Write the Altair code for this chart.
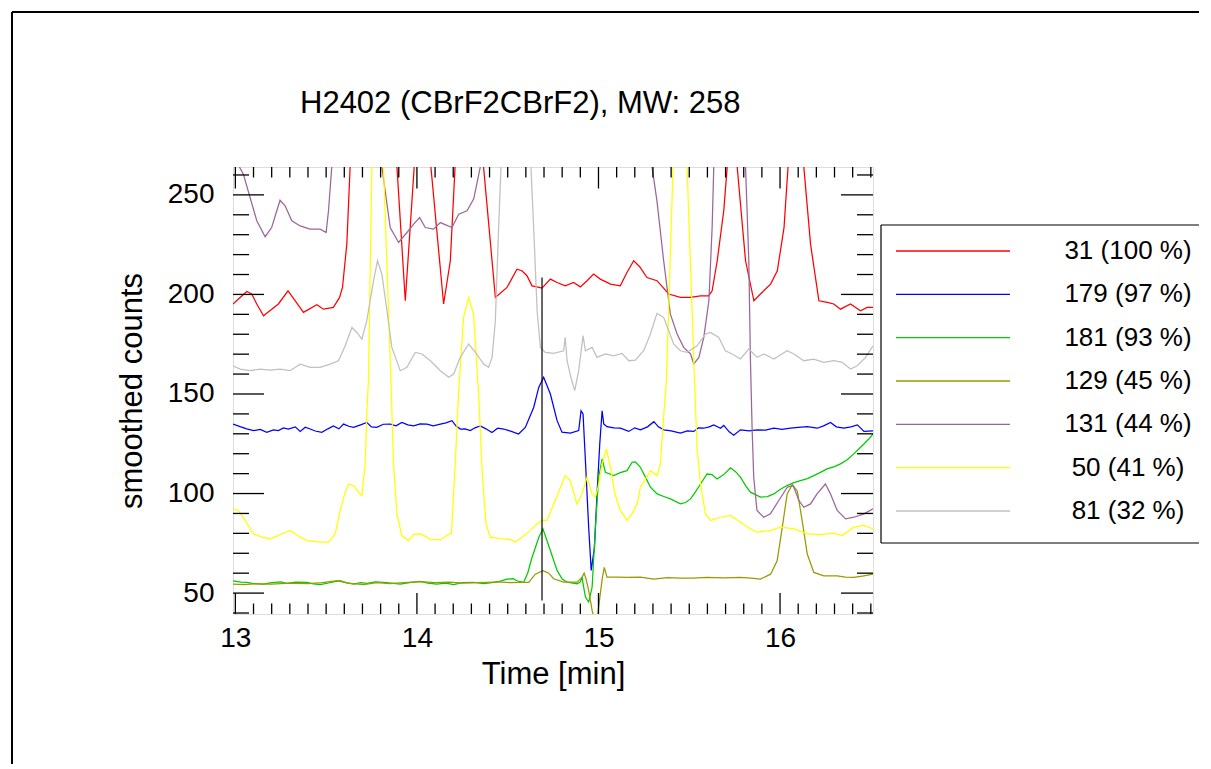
import altair as alt
import pandas as pd

FONT = "Liberation Sans"

title_text = "H2402 (CBrF2CBrF2), MW: 258"
x_title = "Time [min]"
y_title = "smoothed counts"

series_names = ["31 (100 %)", "179 (97 %)", "181 (93 %)", "129 (45 %)",
                "131 (44 %)", "50 (41 %)", "81 (32 %)"]
series_colors = ["#ff0000", "#0000ff", "#00cc00", "#999900",
                 "#996699", "#ffff00", "#c0c0c0"]

x_major = [13, 14, 15, 16]
x_minor = [13.1, 13.2, 13.3, 13.4, 13.5, 13.6, 13.7, 13.8, 13.9,
           14.1, 14.2, 14.3, 14.4, 14.5, 14.6, 14.7, 14.8, 14.9,
           15.1, 15.2, 15.3, 15.4, 15.5, 15.6, 15.7, 15.8, 15.9,
           16.1, 16.2, 16.3, 16.4, 16.5]
y_major = [50, 100, 150, 200, 250]
y_minor = [40, 60, 70, 80, 90, 110, 120, 130, 140, 160, 170, 180, 190,
           210, 220, 230, 240, 260]

# vertical marker line (time, from, to)
marker_time = [14.689]
marker_from = [46.3]
marker_to = [208.5]

red_pts = [(12.987, 195.2), (13.017, 197.7), (13.063, 201.5), (13.09, 200.2), (13.118, 195.2),
           (13.155, 189.3), (13.19, 191.8), (13.237, 195.2), (13.29, 201.8), (13.33, 196.8),
           (13.375, 191.0), (13.449, 194.8), (13.485, 192.6), (13.54, 193.5), (13.574, 198.5),
           (13.59, 203.5), (13.614, 225.3), (13.632, 264), (13.76, 450), (13.89, 264),
           (13.936, 196.8), (13.985, 264), (14.03, 450), (14.077, 264), (14.147, 195.2),
           (14.184, 216.9), (14.21, 264), (14.29, 500), (14.367, 264), (14.432, 198.5),
           (14.496, 203.5), (14.551, 212.7), (14.578, 211.9), (14.606, 209.4), (14.634, 204.3),
           (14.661, 203.8), (14.689, 203.2), (14.735, 207.7), (14.772, 206.0), (14.817, 204.3),
           (14.863, 206.0), (14.9, 203.8), (14.937, 206.9), (14.973, 210.2), (15.01, 207.7),
           (15.066, 205.2), (15.12, 204.3), (15.157, 211.0), (15.194, 216.9), (15.227, 213.9),
           (15.267, 208.5), (15.322, 206.9), (15.387, 200.2), (15.451, 198.5), (15.507, 198.5),
           (15.562, 199.3), (15.607, 199.3), (15.626, 201.8), (15.654, 216.9), (15.69, 242),
           (15.709, 264), (15.735, 275), (15.764, 264), (15.81, 216.9), (15.856, 196.8),
           (15.892, 200.2), (15.948, 205.2), (15.985, 211.9), (16.022, 233.6), (16.044, 264),
           (16.09, 330), (16.131, 264), (16.168, 225.3), (16.214, 196.8), (16.26, 196.0),
           (16.296, 195.2), (16.333, 192.6), (16.388, 195.2), (16.443, 191.8), (16.48, 193.5),
           (16.512, 193.5)]

blue_pts = [(12.987, 134.9), (13.026, 133.6), (13.063, 132.5), (13.1, 131.6), (13.137, 132.2),
            (13.173, 130.7), (13.21, 132.0), (13.237, 131.6), (13.265, 133.0), (13.292, 132.4),
            (13.33, 133.5), (13.357, 131.2), (13.385, 133.3), (13.412, 132.4), (13.44, 131.4),
            (13.476, 130.7), (13.51, 132.5), (13.54, 134.0), (13.57, 132.5), (13.596, 134.9),
            (13.625, 133.8), (13.651, 133.2), (13.69, 134.5), (13.724, 135.7), (13.75, 133.5),
            (13.779, 133.2), (13.815, 134.8), (13.853, 134.9), (13.885, 134.0), (13.917, 135.7),
            (13.95, 134.5), (13.982, 134.0), (14.018, 135.0), (14.055, 134.9), (14.09, 134.0),
            (14.129, 134.9), (14.16, 135.5), (14.193, 136.6), (14.215, 134.0), (14.239, 132.4),
            (14.265, 132.5), (14.294, 131.6), (14.32, 133.0), (14.349, 134.0), (14.38, 132.5),
            (14.413, 130.7), (14.445, 132.8), (14.478, 132.4), (14.52, 131.2), (14.56, 129.9),
            (14.597, 133.2), (14.643, 143.2), (14.671, 153.3), (14.698, 158.4), (14.735, 150.0),
            (14.772, 136.6), (14.799, 130.8), (14.845, 130.3), (14.891, 131.6), (14.904, 141.6),
            (14.915, 140.0), (14.928, 116.6), (14.946, 83.1), (14.96, 61.4), (14.978, 73.1),
            (14.992, 99.8), (15.007, 124.9), (15.02, 141.6), (15.029, 135.0), (15.047, 133.6),
            (15.085, 133.0), (15.121, 132.8), (15.167, 131.2), (15.2, 133.0), (15.231, 132.0),
            (15.27, 133.5), (15.305, 136.1), (15.33, 133.5), (15.36, 132.0), (15.4, 131.5),
            (15.451, 130.3), (15.49, 131.5), (15.525, 131.2), (15.55, 133.0), (15.58, 132.8),
            (15.61, 133.5), (15.635, 134.5), (15.672, 132.8), (15.69, 134.2), (15.72, 131.0),
            (15.745, 129.3), (15.782, 132.0), (15.83, 131.5), (15.874, 132.0), (15.92, 131.8),
            (15.966, 132.8), (16.01, 132.2), (16.058, 132.8), (16.1, 133.2), (16.15, 133.6),
            (16.205, 132.8), (16.24, 134.0), (16.278, 135.7), (16.31, 133.5), (16.352, 132.8),
            (16.39, 133.5), (16.426, 134.5), (16.462, 131.2), (16.512, 131.5)]

green_pts = [(12.987, 56.2), (13.03, 55.5), (13.063, 55.4), (13.1, 54.8), (13.155, 54.5),
             (13.2, 55.2), (13.25, 55.6), (13.283, 54.9), (13.33, 55.5), (13.394, 55.4),
             (13.43, 54.6), (13.467, 54.2), (13.52, 55.2), (13.577, 56.2), (13.61, 55.3),
             (13.651, 54.5), (13.69, 55.2), (13.724, 54.9), (13.77, 55.6), (13.816, 55.4),
             (13.86, 55.0), (13.908, 54.5), (13.96, 55.3), (14.018, 55.9), (14.06, 55.0),
             (14.11, 54.5), (14.16, 55.0), (14.202, 54.2), (14.25, 55.2), (14.312, 55.4),
             (14.37, 54.8), (14.423, 55.4), (14.46, 56.0), (14.496, 57.0), (14.53, 57.2),
             (14.551, 56.2), (14.588, 55.4), (14.61, 60.0), (14.634, 67.9), (14.671, 77.9),
             (14.694, 82.3), (14.735, 71.4), (14.772, 61.4), (14.8, 57.0), (14.827, 55.5),
             (14.882, 54.7), (14.9, 55.5), (14.909, 58.0), (14.928, 48.0), (14.946, 45.5),
             (14.965, 53.0), (14.983, 83.1), (15.001, 108.2), (15.02, 117.4), (15.038, 110.7),
             (15.084, 109.0), (15.12, 110.5), (15.157, 111.5), (15.185, 115.7), (15.203, 115.9),
             (15.231, 113.2), (15.26, 108.0), (15.286, 103.2), (15.323, 99.8), (15.36, 98.5),
             (15.396, 97.3), (15.451, 94.8), (15.48, 95.5), (15.507, 97.3), (15.535, 101.0),
             (15.562, 104.8), (15.598, 109.8), (15.625, 109.5), (15.653, 107.3), (15.69, 109.5),
             (15.727, 112.9), (15.755, 111.0), (15.782, 108.2), (15.81, 104.0), (15.837, 100.7),
             (15.892, 98.2), (15.93, 98.5), (15.966, 99.8), (16.0, 102.0), (16.039, 104.0),
             (16.076, 105.5), (16.113, 106.5), (16.15, 107.5), (16.186, 109.0), (16.22, 110.5),
             (16.259, 112.4), (16.3, 113.5), (16.333, 114.9), (16.37, 117.0), (16.406, 119.9),
             (16.435, 122.5), (16.462, 124.9), (16.49, 127.5), (16.512, 129.9)]

olive_pts = [(12.987, 54.5), (13.05, 54.2), (13.1, 54.6), (13.2, 54.5), (13.3, 55.0),
             (13.4, 54.7), (13.48, 55.2), (13.559, 56.2), (13.62, 55.0), (13.706, 54.2),
             (13.78, 55.3), (13.85, 54.8), (13.93, 55.3), (14.018, 55.7), (14.1, 55.2),
             (14.18, 55.5), (14.25, 55.0), (14.32, 55.3), (14.386, 55.4), (14.45, 55.6),
             (14.52, 55.2), (14.57, 55.4), (14.616, 55.4), (14.652, 59.5), (14.694, 61.2),
             (14.726, 60.0), (14.753, 57.2), (14.808, 55.5), (14.882, 55.5), (14.909, 57.9),
             (14.921, 60.0), (14.932, 57.0), (14.946, 51.3), (14.965, 41.3), (14.978, 36.3),
             (14.992, 36.3), (15.01, 49.7), (15.022, 58.0), (15.032, 62.9), (15.047, 58.0),
             (15.102, 58.0), (15.157, 57.9), (15.23, 58.0), (15.305, 57.0), (15.38, 57.8),
             (15.451, 57.5), (15.52, 57.5), (15.598, 57.9), (15.69, 57.6), (15.782, 57.9),
             (15.84, 57.5), (15.892, 57.0), (15.948, 59.5), (15.984, 66.2), (16.012, 82.9),
             (16.039, 99.7), (16.067, 104.5), (16.095, 101.3), (16.122, 86.3), (16.15, 69.6),
             (16.186, 60.4), (16.241, 58.7), (16.315, 58.7), (16.36, 58.0), (16.406, 57.9),
             (16.462, 58.7), (16.512, 59.5)]

purple_pts = [(12.987, 270), (13.044, 260.4), (13.081, 248.7), (13.118, 237.0), (13.164, 229.0),
              (13.2, 233.6), (13.246, 247.3), (13.274, 244.5), (13.311, 237.0), (13.357, 234.4),
              (13.412, 232.8), (13.467, 232.8), (13.5, 231.1), (13.513, 242.0), (13.531, 264),
              (13.67, 380), (13.807, 264), (13.853, 233.6), (13.899, 226.1), (13.945, 231.1),
              (13.982, 235.3), (14.015, 238.6), (14.046, 233.6), (14.092, 232.8), (14.129, 236.1),
              (14.193, 233.6), (14.23, 240.3), (14.276, 242.0), (14.313, 248.0), (14.349, 264),
              (14.5, 600), (14.85, 900), (15.15, 600), (15.295, 264), (15.322, 247.0),
              (15.359, 216.9), (15.396, 190.1), (15.433, 180.1), (15.469, 173.4), (15.507, 170.1),
              (15.525, 165.1), (15.553, 168.4), (15.58, 178.4), (15.608, 196.8), (15.626, 233.6),
              (15.635, 264), (15.72, 500), (15.81, 264), (15.828, 216.9), (15.837, 166.7),
              (15.846, 133.3), (15.855, 108.2), (15.873, 91.5), (15.91, 88.1), (15.947, 89.8),
              (15.993, 96.5), (16.04, 103.2), (16.072, 104.0), (16.104, 96.5), (16.131, 93.1),
              (16.168, 94.8), (16.204, 99.8), (16.25, 104.8), (16.278, 99.8), (16.315, 91.5),
              (16.361, 87.3), (16.407, 88.1), (16.462, 89.8), (16.512, 92.3)]

yellow_pts = [(12.987, 92.3), (13.017, 91.5), (13.054, 86.5), (13.1, 79.8), (13.15, 78.0),
              (13.191, 77.3), (13.225, 78.5), (13.256, 79.8), (13.302, 81.5), (13.357, 78.1),
              (13.394, 76.4), (13.467, 75.6), (13.513, 75.6), (13.55, 79.8), (13.577, 91.5),
              (13.605, 100.7), (13.623, 104.8), (13.651, 104.0), (13.678, 100.7), (13.697, 99.0),
              (13.715, 114.9), (13.724, 140.0), (13.733, 156.7), (13.752, 264), (13.785, 400),
              (13.816, 264), (13.857, 156.7), (13.871, 114.9), (13.89, 89.8), (13.917, 78.9),
              (13.954, 76.4), (13.982, 79.4), (14.018, 79.8), (14.055, 78.1), (14.074, 76.8),
              (14.129, 76.8), (14.165, 78.9), (14.19, 80.0), (14.211, 114.9), (14.229, 150.0),
              (14.257, 188.5), (14.285, 198.5), (14.312, 190.1), (14.34, 150.0), (14.36, 110.0),
              (14.38, 85.0), (14.404, 78.1), (14.459, 77.3), (14.515, 76.8), (14.542, 75.6),
              (14.579, 78.1), (14.625, 81.5), (14.662, 84.8), (14.689, 86.5), (14.716, 86.5),
              (14.762, 96.5), (14.817, 109.0), (14.845, 106.5), (14.882, 94.5), (14.909, 99.8),
              (14.937, 108.2), (14.965, 99.8), (14.983, 98.2), (15.0, 104.0), (15.02, 114.9),
              (15.044, 122.4), (15.066, 113.2), (15.09, 100.0), (15.12, 91.5), (15.157, 86.5),
              (15.185, 89.8), (15.213, 95.0), (15.231, 103.2), (15.286, 111.5), (15.323, 109.0),
              (15.341, 114.9), (15.36, 140.0), (15.374, 156.7), (15.411, 264), (15.45, 400),
              (15.488, 264), (15.529, 156.7), (15.543, 123.2), (15.562, 104.8), (15.589, 89.8),
              (15.617, 86.5), (15.672, 88.1), (15.727, 89.0), (15.782, 85.6), (15.837, 82.2),
              (15.874, 80.6), (15.948, 81.5), (16.003, 83.1), (16.077, 82.2), (16.15, 79.8),
              (16.223, 79.4), (16.297, 80.1), (16.343, 78.9), (16.407, 83.1), (16.462, 84.0),
              (16.512, 82.2)]

gray_pts = [(12.987, 164.2), (13.026, 162.5), (13.081, 161.7), (13.136, 162.5), (13.191, 162.0),
            (13.246, 162.5), (13.301, 161.7), (13.357, 165.0), (13.412, 163.4), (13.467, 163.4),
            (13.522, 165.0), (13.568, 166.7), (13.605, 174.2), (13.642, 183.4), (13.669, 180.9),
            (13.697, 177.6), (13.724, 186.8), (13.761, 206.9), (13.783, 216.9), (13.807, 210.2),
            (13.835, 191.8), (13.862, 173.4), (13.908, 161.7), (13.945, 163.4), (13.991, 170.9),
            (14.028, 170.1), (14.074, 166.7), (14.129, 161.7), (14.175, 158.4), (14.202, 160.0),
            (14.239, 168.4), (14.285, 175.1), (14.322, 170.9), (14.368, 165.0), (14.395, 163.4),
            (14.414, 168.4), (14.432, 186.8), (14.45, 233.6), (14.463, 264), (14.545, 450),
            (14.628, 264), (14.643, 233.6), (14.662, 191.8), (14.68, 173.4), (14.707, 170.9),
            (14.753, 170.4), (14.808, 171.7), (14.817, 178.4), (14.827, 166.7), (14.848, 158.4),
            (14.869, 151.7), (14.891, 161.7), (14.915, 179.3), (14.928, 171.7), (14.965, 173.4),
            (14.992, 168.4), (15.038, 170.1), (15.084, 169.2), (15.13, 170.4), (15.167, 166.7),
            (15.203, 167.0), (15.249, 171.7), (15.286, 180.1), (15.322, 190.5), (15.359, 188.5),
            (15.387, 181.8), (15.414, 175.1), (15.451, 171.7), (15.488, 170.9), (15.543, 174.2),
            (15.589, 180.1), (15.617, 180.9), (15.663, 178.4), (15.699, 171.7), (15.736, 170.1),
            (15.782, 167.6), (15.828, 172.6), (15.874, 168.4), (15.911, 170.1), (15.966, 167.6),
            (16.039, 171.7), (16.076, 170.1), (16.131, 166.7), (16.186, 167.5), (16.241, 165.9),
            (16.296, 166.7), (16.343, 165.9), (16.388, 162.5), (16.425, 164.2), (16.471, 168.4),
            (16.512, 174.2)]

series_points = [red_pts, blue_pts, green_pts, olive_pts, purple_pts, yellow_pts, gray_pts]

rows = []
for name, pts in zip(series_names, series_points):
    for t, v in pts:
        rows.append({"t": t, "v": v, "series": name})
df = pd.DataFrame(rows)

W, H = 640, 447
RIGHT_EDGE = 966  # where the frame and legend-box lines stop, in plot coordinates
xs = alt.Scale(domain=[12.987, 16.512], nice=False, zero=False)
ys = alt.Scale(domain=[39.5, 264], nice=False, zero=False)
cscale = alt.Scale(domain=series_names, range=series_colors)

x_axis = alt.Axis(values=x_major, format="d", ticks=False, domain=False, grid=False,
                  labelFontSize=28, labelFont=FONT, labelColor="black", labelPadding=10,
                  title=x_title, titleFontSize=31, titleFont=FONT, titleFontWeight="normal",
                  titleColor="black", titleY=69.5, titleBaseline="alphabetic")
y_axis = alt.Axis(values=y_major, ticks=False, domain=False, grid=False,
                  labelFontSize=28, labelFont=FONT, labelColor="black", labelPadding=19,
                  title=y_title, titleFontSize=31, titleFont=FONT, titleFontWeight="normal",
                  titleColor="black", titleX=-92, titleY=H / 2, titleAngle=270,
                  titleBaseline="alphabetic", titleAlign="center")

lines = alt.Chart(df).mark_line(clip=True, strokeWidth=1.25).encode(
    x=alt.X("t:Q", scale=xs, axis=x_axis),
    y=alt.Y("v:Q", scale=ys, axis=y_axis),
    color=alt.Color("series:N", scale=cscale, legend=None),
    detail="series:N",
)

marker = alt.Chart(pd.DataFrame({"t": marker_time, "a": marker_from, "b": marker_to})).mark_rule(
    color="black", strokeWidth=1.2).encode(
    x=alt.X("t:Q", scale=xs), y=alt.Y("a:Q", scale=ys), y2="b:Q")


def xticks(vals, y0, y1):
    return alt.Chart(pd.DataFrame({"t": vals})).mark_rule(color="black", strokeWidth=1.3).encode(
        x=alt.X("t:Q", scale=xs), y=alt.value(y0), y2=alt.value(y1))


def yticks(vals, x0, x1):
    return alt.Chart(pd.DataFrame({"v": vals})).mark_rule(color="black", strokeWidth=1.3).encode(
        y=alt.Y("v:Q", scale=ys), x=alt.value(x0), x2=alt.value(x1))


tick_layers = [
    xticks(x_major, H, H - 21), xticks(x_minor, H, H - 10.5),
    xticks(x_major, 0, 21.5), xticks(x_minor, 0, 10.5),
    yticks(y_major, 0, 31), yticks(y_minor, 0, 16),
    yticks(y_major, W, W - 32), yticks(y_minor, W, W - 16),
]

one = pd.DataFrame({"text": [title_text]})
title_mark = alt.Chart(one).mark_text(align="left", baseline="alphabetic", fontSize=31,
                                      font=FONT, color="black").encode(
    x=alt.value(67), y=alt.value(-54), text="text:N")

frame_top = alt.Chart(one).mark_rule(color="black", strokeWidth=2).encode(
    x=alt.value(-221), x2=alt.value(RIGHT_EDGE), y=alt.value(-155))
frame_left = alt.Chart(one).mark_rule(color="black", strokeWidth=2).encode(
    x=alt.value(-221), y=alt.value(-155), y2=alt.value(600))

box_top = alt.Chart(one).mark_rule(color="black", strokeWidth=1.2).encode(
    x=alt.value(648), x2=alt.value(RIGHT_EDGE), y=alt.value(58))
box_bottom = alt.Chart(one).mark_rule(color="black", strokeWidth=1.2).encode(
    x=alt.value(648), x2=alt.value(RIGHT_EDGE), y=alt.value(376))
box_left = alt.Chart(one).mark_rule(color="black", strokeWidth=1.2).encode(
    x=alt.value(648), y=alt.value(58), y2=alt.value(376))

main = alt.layer(lines, marker, *tick_layers, title_mark,
                 frame_top, frame_left, box_top, box_bottom, box_left)

legend_df = pd.DataFrame({"series": series_names, "row": list(range(len(series_names)))})
legend_y = alt.Y("row:Q", scale=alt.Scale(domain=[0, 6], range=[84, 344]), axis=None)
legend_lines = alt.Chart(legend_df).mark_rule(strokeWidth=1.3).encode(
    x=alt.value(663), x2=alt.value(777), y=legend_y,
    color=alt.Color("series:N", scale=cscale, legend=None))
legend_text = alt.Chart(legend_df).mark_text(align="center", baseline="middle", fontSize=26,
                                             font=FONT, color="black").encode(
    x=alt.value(895), y=legend_y, text="series:N")
legend = alt.layer(legend_lines, legend_text)

chart = alt.layer(main, legend).resolve_scale(y="independent").properties(
    width=W, height=H,
    padding={"left": 225, "top": 159, "right": 330, "bottom": 150},
    autosize=alt.AutoSizeParams(type="none"),
).configure_view(stroke="black", strokeWidth=1.2).configure(font=FONT)

chart.save("out.html", embed_options={"renderer": "svg", "actions": False})
